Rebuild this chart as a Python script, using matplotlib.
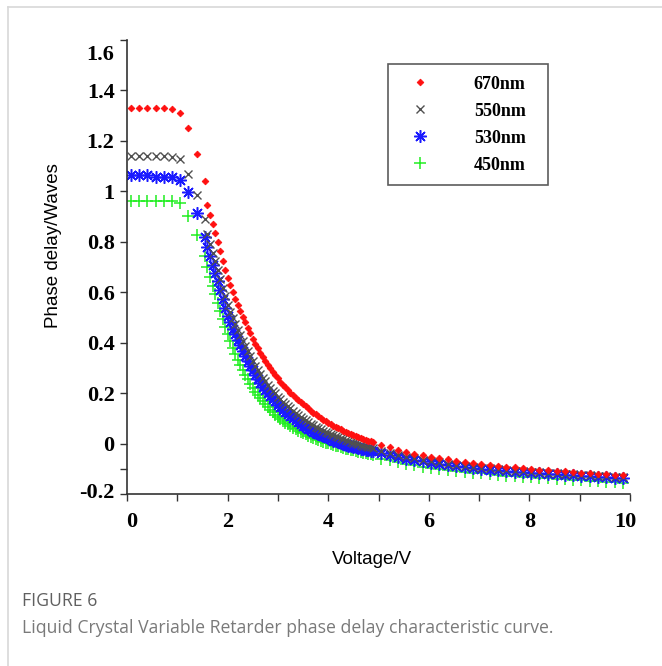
import numpy as np
import matplotlib
matplotlib.use('Agg')
import matplotlib.pyplot as plt
from matplotlib.lines import Line2D
from matplotlib.transforms import ScaledTranslation

# voltage sampling: coarse start, dense middle, coarse tail
v_start = [0.08, 0.24, 0.40, 0.57, 0.73, 0.89, 1.06, 1.22, 1.39, 1.55]
v_mid = np.round(np.arange(1.60, 4.901, 0.05), 2)
v_tail = np.round(np.arange(5.05, 9.9, 0.166), 2)
voltage = np.concatenate([v_start, v_mid, v_tail])

red_start = [1.33, 1.33, 1.33, 1.33, 1.33, 1.325, 1.31, 1.25, 1.15, 1.04]
red_mid = [0.945, 0.905, 0.870, 0.835, 0.800, 0.762, 0.725, 0.690, 0.655, 0.627,
           0.600, 0.575, 0.550, 0.527, 0.503, 0.480, 0.458, 0.437, 0.416, 0.396,
           0.377, 0.360, 0.343, 0.327, 0.312, 0.298, 0.285, 0.272, 0.258, 0.246,
           0.234, 0.223, 0.212, 0.202, 0.192, 0.182, 0.173, 0.164, 0.155, 0.147,
           0.139, 0.131, 0.123, 0.116, 0.109, 0.102, 0.095, 0.089, 0.083, 0.077,
           0.071, 0.066, 0.061, 0.056, 0.051, 0.047, 0.042, 0.038, 0.034, 0.030,
           0.026, 0.022, 0.018, 0.015, 0.012, 0.009, 0.006]
red_tail = [-0.005, -0.015, -0.024, -0.032, -0.040, -0.046, -0.052, -0.058, -0.063, -0.068,
            -0.073, -0.077, -0.081, -0.085, -0.088, -0.091, -0.094, -0.097, -0.100, -0.103,
            -0.106, -0.108, -0.110, -0.113, -0.115, -0.117, -0.119, -0.121, -0.123, -0.125]

gray_start = [1.142, 1.142, 1.142, 1.142, 1.142, 1.137, 1.128, 1.07, 0.986, 0.889]
gray_mid = [0.830, 0.791, 0.757, 0.724, 0.690, 0.653, 0.618, 0.584, 0.550, 0.523,
            0.498, 0.474, 0.450, 0.429, 0.407, 0.386, 0.366, 0.347, 0.327, 0.309,
            0.292, 0.277, 0.261, 0.247, 0.234, 0.221, 0.210, 0.199, 0.186, 0.176,
            0.166, 0.156, 0.147, 0.139, 0.130, 0.121, 0.113, 0.106, 0.098, 0.092,
            0.085, 0.079, 0.072, 0.067, 0.062, 0.057, 0.051, 0.047, 0.043, 0.038,
            0.033, 0.029, 0.025, 0.021, 0.017, 0.014, 0.010, 0.007, 0.004, 0.001,
            -0.002, -0.005, -0.008, -0.010, -0.012, -0.014, -0.016]
gray_tail = [-0.030, -0.038, -0.046, -0.053, -0.059, -0.065, -0.070, -0.075, -0.080, -0.084,
             -0.088, -0.092, -0.095, -0.098, -0.101, -0.104, -0.107, -0.109, -0.111, -0.113,
             -0.115, -0.117, -0.119, -0.121, -0.123, -0.125, -0.127, -0.129, -0.131, -0.133]

blue_start = [1.063, 1.063, 1.063, 1.058, 1.058, 1.058, 1.045, 0.997, 0.913, 0.82]
blue_mid = [0.780, 0.742, 0.709, 0.676, 0.643, 0.607, 0.573, 0.539, 0.506, 0.480,
            0.456, 0.433, 0.410, 0.389, 0.368, 0.347, 0.328, 0.309, 0.290, 0.272,
            0.256, 0.241, 0.226, 0.213, 0.200, 0.188, 0.177, 0.167, 0.154, 0.145,
            0.135, 0.126, 0.117, 0.110, 0.101, 0.093, 0.085, 0.079, 0.071, 0.066,
            0.059, 0.054, 0.047, 0.043, 0.038, 0.034, 0.028, 0.025, 0.021, 0.017,
            0.012, 0.009, 0.005, 0.002, -0.002, -0.004, -0.008, -0.010, -0.013, -0.015,
            -0.018, -0.020, -0.023, -0.025, -0.026, -0.028, -0.030]
blue_tail = [-0.038, -0.046, -0.053, -0.060, -0.066, -0.071, -0.076, -0.081, -0.085, -0.089,
             -0.093, -0.097, -0.100, -0.103, -0.106, -0.109, -0.112, -0.114, -0.116, -0.118,
             -0.120, -0.122, -0.124, -0.126, -0.128, -0.130, -0.132, -0.134, -0.136, -0.138]

green_start = [0.96, 0.96, 0.96, 0.96, 0.96, 0.96, 0.954, 0.901, 0.826, 0.744]
green_mid = [0.700, 0.662, 0.626, 0.591, 0.557, 0.524, 0.492, 0.462, 0.433, 0.406,
             0.380, 0.356, 0.333, 0.311, 0.291, 0.272, 0.254, 0.237, 0.221, 0.206,
             0.192, 0.179, 0.167, 0.155, 0.144, 0.134, 0.124, 0.115, 0.106, 0.098,
             0.090, 0.083, 0.076, 0.069, 0.063, 0.057, 0.051, 0.046, 0.041, 0.036,
             0.031, 0.027, 0.023, 0.019, 0.015, 0.011, 0.007, 0.004, 0.001, -0.002,
             -0.005, -0.008, -0.011, -0.014, -0.017, -0.020, -0.022, -0.025, -0.027, -0.030,
             -0.032, -0.035, -0.037, -0.039, -0.041, -0.043, -0.045]
green_tail = [-0.060, -0.067, -0.074, -0.080, -0.086, -0.091, -0.096, -0.100, -0.104, -0.108,
              -0.112, -0.115, -0.118, -0.121, -0.124, -0.127, -0.130, -0.132, -0.134, -0.136,
              -0.138, -0.140, -0.142, -0.144, -0.146, -0.148, -0.150, -0.152, -0.154, -0.156]

labels = ['670nm', '550nm', '530nm', '450nm']
series = [red_start + red_mid + red_tail,
          gray_start + gray_mid + gray_tail,
          blue_start + blue_mid + blue_tail,
          green_start + green_mid + green_tail]

# marker styles per series
styles = [
    dict(marker='D', color='#ff1010', ms=3.4, mew=0.6),
    dict(marker='x', color='#505050', ms=5.5, mew=1.0),
    dict(marker=(8, 2, 0), color='#1a1aff', ms=9, mew=1.1),
    dict(marker='+', color='#22ee22', ms=9, mew=1.1),
]

fig = plt.figure(figsize=(6.62, 6.66), dpi=100)
ax = fig.add_axes([127 / 662, 1 - 494 / 666, 503 / 662, 454 / 666])

handles = []
for lab, vals, st in zip(labels, series, styles):
    h, = ax.plot(voltage, vals, linestyle='none', marker=st['marker'], color=st['color'],
                 markersize=st['ms'], markeredgewidth=st['mew'], label=lab)
    handles.append(h)
# green at back, red on top
for z, h in zip([4, 3, 2, 1], handles):
    h.set_zorder(z)

ax.set_xlim(0, 10)
ax.set_ylim(-0.2, 1.6)
ax.set_xticks(np.arange(0, 11, 1))
ax.set_xticklabels(['0', '', '2', '', '4', '', '6', '', '8', '', '10'])
ax.set_yticks([-0.2, 0, 0.2, 0.4, 0.6, 0.8, 1.0, 1.2, 1.4, 1.6])
ax.set_yticklabels(['-0.2', '0', '0.2', '0.4', '0.6', '0.8', '1', '1.2', '1.4', '1.6'])
ax.set_yticks([-0.1], minor=True)

for s in ['top', 'right']:
    ax.spines[s].set_visible(False)
for s in ['left', 'bottom']:
    ax.spines[s].set_color('#333333')
    ax.spines[s].set_linewidth(1.2)

ax.tick_params(which='both', direction='out', length=5, width=1.0, color='#333333')
ax.tick_params(axis='x', pad=8)
ax.tick_params(axis='y', pad=4)
for t in ax.get_xticklabels() + ax.get_yticklabels():
    t.set_fontfamily('Liberation Serif')
    t.set_fontweight('bold')
    t.set_fontsize(16)

# small label nudges as in the original
def nudge(lbl, dx, dy):
    lbl.set_transform(lbl.get_transform() + ScaledTranslation(dx / 100, dy / 100, fig.dpi_scale_trans))

xl = ax.get_xticklabels()
nudge(xl[0], 5, 0)
nudge(xl[-1], -5, 0)
yl = ax.get_yticklabels()
nudge(yl[-1], 0, -12)
nudge(yl[0], 0, 3)

ax.set_xlabel('Voltage/V', fontfamily='Liberation Sans', fontsize=13.5)
ax.xaxis.set_label_coords(0.487, -0.126)
ax.set_ylabel('Phase delay/Waves', fontfamily='Liberation Sans', fontsize=13.5)
ax.yaxis.set_label_coords(-0.13, 0.548)

leg = ax.legend(handles=handles, loc='upper left', bbox_to_anchor=(0.519, 0.685, 0.318, 0.262),
                mode='expand', frameon=True, fancybox=False, numpoints=1, borderpad=0.65,
                labelspacing=0.55, handlelength=2.2, handletextpad=1.9,
                borderaxespad=0, prop={'family': 'Liberation Serif', 'weight': 'bold', 'size': 13})
leg.get_frame().set_edgecolor('#333333')
leg.get_frame().set_linewidth(1.2)

# page frame lines and caption
fig.add_artist(Line2D([8 / 662, 1], [1 - 7 / 666, 1 - 7 / 666], color='#d8d8d8', lw=1.2))
fig.add_artist(Line2D([8 / 662, 8 / 662], [0, 1 - 7 / 666], color='#d8d8d8', lw=1.2))
fig.text(22 / 662, 1 - 601 / 666, 'FIGURE 6', fontfamily='Open Sans', fontsize=12.7,
         color='#606060', va='center')
fig.text(22 / 662, 1 - 628 / 666,
         'Liquid Crystal Variable Retarder phase delay characteristic curve.',
         fontfamily='Open Sans', fontsize=12.7, color='#7a7a7a', va='center')

fig.savefig('out.png', dpi=100)
